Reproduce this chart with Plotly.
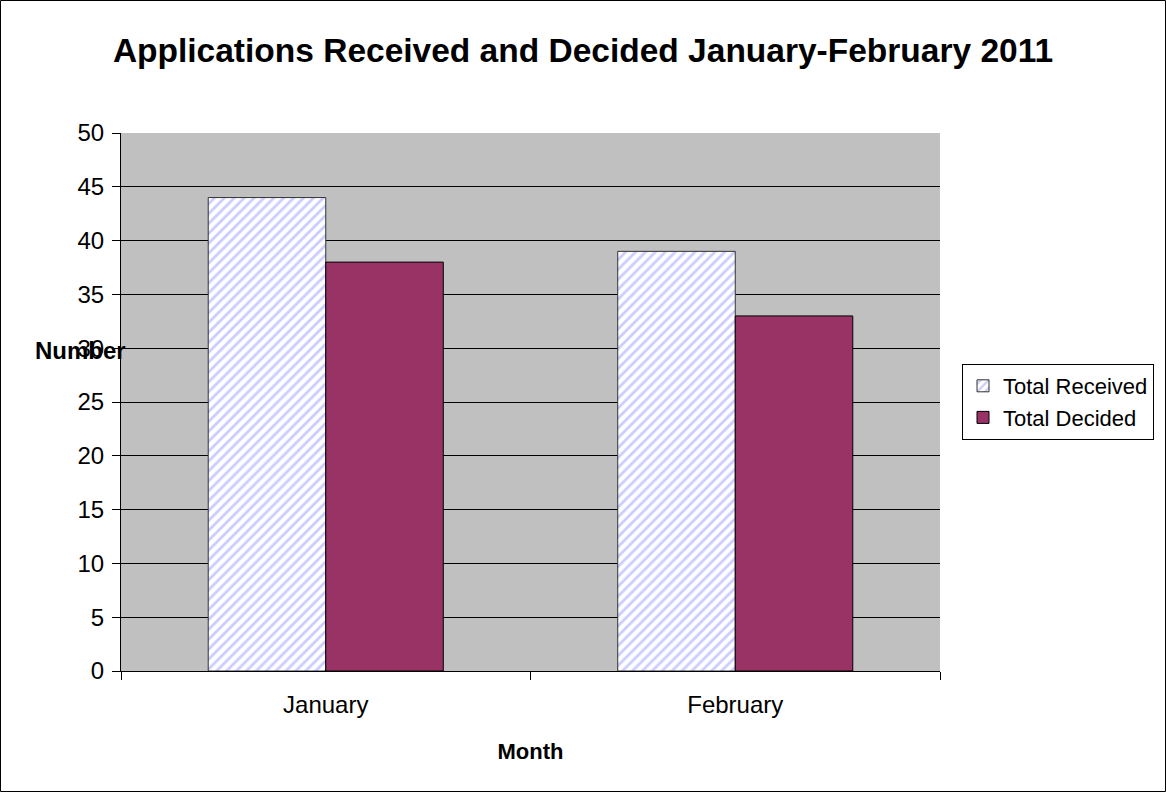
import plotly.graph_objects as go

months = ["January", "February"]
total_received = [44, 39]
total_decided = [38, 33]
y_ticks = [0, 5, 10, 15, 20, 25, 30, 35, 40, 45, 50]

W, H = 1166, 792
ML, MR, MT, MB = 121, 226, 133, 121
pw = W - ML - MR
ph = H - MT - MB

FONT = "Liberation Sans, Arial, sans-serif"

fig = go.Figure()
fig.add_trace(go.Bar(
    x=months, y=total_received, name="Total Received",
    marker=dict(color="white", line=dict(color="#333333", width=1),
                pattern=dict(shape="/", fgcolor="#9999FF", bgcolor="white", size=7, solidity=0.4)),
))
fig.add_trace(go.Bar(
    x=months, y=total_decided, name="Total Decided",
    marker=dict(color="#993366", line=dict(color="#000000", width=1)),
))

fig.update_layout(
    width=W, height=H,
    margin=dict(l=ML, r=MR, t=MT, b=MB),
    paper_bgcolor="white", plot_bgcolor="#C0C0C0",
    barmode="group", bargap=0.426, bargroupgap=0,
    font=dict(family=FONT, size=22, color="black"),
    title=dict(text="<b>Applications Received and Decided January-February 2011</b>",
               x=0.5, xref="container", xanchor="center", y=1 - 50 / H, yanchor="middle",
               font=dict(size=33.5, color="black")),
    legend=dict(x=(962 - ML) / pw, xanchor="left", y=0.5, yanchor="middle",
                bordercolor="black", borderwidth=1, bgcolor="white",
                font=dict(size=22), itemwidth=30, tracegroupgap=6),
    xaxis=dict(showline=True, linecolor="black", linewidth=1,
               ticks="outside", tickson="boundaries", ticklen=8, tickcolor="black",
               showgrid=False, tickfont=dict(size=24), ticklabelstandoff=12,
               title=dict(text="<b>Month</b>", font=dict(size=22), standoff=26)),
    yaxis=dict(range=[0, 50], tickvals=y_ticks, showline=True, linecolor="black", linewidth=1,
               ticks="outside", ticklen=8, tickcolor="black", ticklabelstandoff=3,
               showgrid=True, gridcolor="black", gridwidth=1, zeroline=False,
               tickfont=dict(size=24)),
)

fig.add_annotation(text="<b>Number</b>", xref="paper", yref="paper",
                   x=(33 - ML) / pw, xanchor="left", y=(671 - 350) / ph, yanchor="middle",
                   showarrow=False, font=dict(size=24, color="black"))

fig.add_shape(type="rect", xref="paper", yref="paper",
              x0=(0.5 - ML) / pw, x1=(W - 0.5 - ML) / pw,
              y0=-(MB - 0.5) / ph, y1=(H - MB - 0.5) / ph,
              line=dict(color="black", width=1), fillcolor="rgba(0,0,0,0)", layer="below")

fig.write_html("out.html", config={"displayModeBar": False},
               post_script="document.body.style.margin='0';document.body.style.overflow='hidden';")
